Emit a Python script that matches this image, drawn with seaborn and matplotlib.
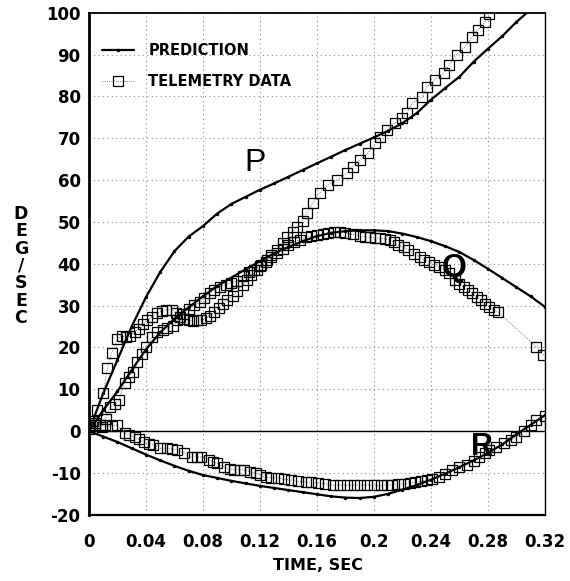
import numpy as np
import pandas as pd
import matplotlib
matplotlib.use("Agg")
import matplotlib.pyplot as plt
from matplotlib.lines import Line2D
import seaborn as sns

# predicted rates, one point every 0.01 s
t_pred = [0.00, 0.01, 0.02, 0.03, 0.04, 0.05, 0.06, 0.07, 0.08, 0.09, 0.10,
          0.11, 0.12, 0.13, 0.14, 0.15, 0.16, 0.17, 0.18, 0.19, 0.20, 0.21,
          0.22, 0.23, 0.24, 0.25, 0.26, 0.27, 0.28, 0.29, 0.30, 0.31, 0.32]
p_pred = [0, 9, 17, 25, 32, 38, 43, 46.5, 49, 52, 54.3,
          56, 57.7, 59.2, 60.8, 62.4, 64, 65.6, 67.2, 68.7, 70.2, 71.8,
          73.6, 76, 79.2, 82, 84.7, 88.3, 91.4, 94.4, 97.8, 100.8]
q_pred = [0, 5, 9.5, 14.6, 19.5, 23.6, 26.8, 29.6, 32.2, 34.7, 36.7,
          38.7, 40.6, 42.5, 44, 45.4, 46.6, 47.4, 47.8, 48, 48, 47.8,
          47.2, 46.4, 45.4, 44.2, 42.8, 40.9, 38.8, 36.6, 34.4, 32.2, 29.7]
r_pred = [0, -1.3, -2.6, -4.1, -5.6, -7, -8.3, -9.5, -10.5, -11.2, -11.9,
          -12.5, -13.1, -13.6, -14.1, -14.6, -15.1, -15.6, -15.9, -16, -15.7, -15,
          -14, -12.9, -11.6, -10.2, -8.6, -7, -5.2, -3.2, -0.8, 1.5, 3.8]

# telemetry samples (time, deg/sec)
p_tel = [(0.000, 1.0), (0.003, 2.5), (0.006, 5.0), (0.010, 9.0), (0.013, 15.0),
         (0.016, 18.7), (0.020, 22.0), (0.023, 22.7), (0.026, 22.5), (0.029, 22.7),
         (0.032, 23.8), (0.035, 24.5), (0.038, 25.6), (0.041, 26.5), (0.044, 27.2),
         (0.048, 28.2), (0.051, 28.7), (0.054, 29.0), (0.058, 29.0), (0.061, 28.3),
         (0.064, 27.3), (0.067, 26.7), (0.070, 26.5), (0.073, 26.4), (0.076, 26.5),
         (0.079, 26.6), (0.082, 27.0), (0.085, 27.6), (0.088, 28.5), (0.091, 29.5),
         (0.094, 30.5), (0.097, 31.3), (0.101, 32.3), (0.104, 33.5), (0.108, 35.0),
         (0.111, 36.2), (0.114, 37.3), (0.118, 38.5), (0.121, 39.7), (0.125, 41.0),
         (0.128, 42.2), (0.132, 43.3), (0.136, 45.0), (0.139, 46.3), (0.143, 47.6),
         (0.146, 48.8), (0.150, 50.3), (0.153, 52.2), (0.157, 54.5), (0.162, 57.0),
         (0.168, 58.9), (0.174, 60.0), (0.181, 61.7), (0.185, 63.2), (0.190, 64.8),
         (0.196, 66.5), (0.201, 68.9), (0.204, 70.3), (0.209, 72.0), (0.215, 73.7),
         (0.220, 74.9), (0.223, 76.0), (0.227, 78.5), (0.234, 79.9), (0.237, 82.3),
         (0.243, 84.0), (0.249, 85.6), (0.253, 87.6), (0.258, 90.0), (0.264, 91.9),
         (0.269, 94.3), (0.273, 95.9), (0.278, 97.8), (0.281, 99.8)]
q_tel = [(0.000, 0.5), (0.004, 1.5), (0.009, 1.0), (0.012, 3.0), (0.015, 5.7),
         (0.018, 6.5), (0.021, 7.5), (0.025, 11.5), (0.028, 13.0), (0.031, 14.1),
         (0.034, 16.5), (0.037, 18.5), (0.040, 20.0), (0.044, 22.5), (0.048, 23.7),
         (0.052, 24.2), (0.055, 24.6), (0.059, 25.1), (0.062, 26.5), (0.066, 28.0),
         (0.070, 29.3), (0.074, 30.1), (0.078, 30.8), (0.081, 31.8), (0.085, 33.0),
         (0.088, 33.8), (0.092, 34.5), (0.096, 35.0), (0.100, 35.5), (0.104, 36.0),
         (0.108, 37.0), (0.112, 38.0), (0.116, 38.5), (0.120, 39.5), (0.124, 40.5),
         (0.128, 41.5), (0.132, 42.5), (0.136, 43.5), (0.140, 44.5), (0.144, 45.3),
         (0.148, 45.8), (0.152, 46.3), (0.156, 46.7), (0.160, 46.9), (0.164, 47.0),
         (0.168, 47.4), (0.172, 47.6), (0.176, 47.6), (0.180, 47.4), (0.185, 47.0),
         (0.190, 46.7), (0.194, 46.5), (0.197, 46.4), (0.201, 46.2), (0.204, 46.1),
         (0.208, 45.9), (0.211, 45.7), (0.214, 45.1), (0.217, 44.5), (0.221, 43.9),
         (0.224, 43.3), (0.228, 42.4), (0.232, 41.6), (0.235, 41.0), (0.239, 40.4),
         (0.242, 39.8), (0.246, 39.2), (0.250, 38.4), (0.253, 37.8), (0.257, 36.1),
         (0.260, 35.2), (0.263, 34.4), (0.266, 33.7), (0.269, 33.0), (0.272, 32.0),
         (0.275, 31.3), (0.278, 30.3), (0.281, 29.7), (0.284, 29.0), (0.287, 28.5),
         (0.314, 20.1), (0.319, 18.2)]
r_tel = [(0.000, 1.0), (0.004, 1.9), (0.008, 1.5), (0.011, 1.4), (0.016, 1.2),
         (0.020, 1.4), (0.025, -0.5), (0.028, -1.0), (0.032, -1.4), (0.035, -2.0),
         (0.039, -2.6), (0.042, -3.0), (0.045, -3.3), (0.050, -4.1), (0.055, -4.1),
         (0.058, -4.3), (0.062, -4.5), (0.067, -5.3), (0.072, -6.2), (0.076, -6.2),
         (0.079, -6.2), (0.084, -6.9), (0.087, -7.3), (0.090, -7.7), (0.095, -8.6),
         (0.099, -9.0), (0.102, -9.3), (0.106, -9.3), (0.109, -9.3), (0.113, -9.7),
         (0.117, -10.0), (0.120, -10.5), (0.124, -11.0), (0.128, -11.1), (0.133, -11.2),
         (0.137, -11.5), (0.142, -11.7), (0.147, -12.0), (0.152, -12.2), (0.156, -12.2),
         (0.161, -12.3), (0.166, -12.6), (0.171, -12.9), (0.176, -12.9), (0.181, -12.9),
         (0.186, -12.9), (0.190, -12.9), (0.195, -12.9), (0.200, -13.0), (0.205, -13.0),
         (0.209, -12.9), (0.213, -12.9), (0.217, -12.7), (0.221, -12.6), (0.225, -12.4),
         (0.229, -12.2), (0.233, -12.0), (0.237, -11.7), (0.241, -11.4), (0.246, -11.0),
         (0.250, -10.2), (0.255, -9.3), (0.260, -8.7), (0.265, -8.1), (0.270, -7.2),
         (0.274, -6.2), (0.278, -5.3), (0.281, -4.5), (0.286, -3.7), (0.291, -2.9),
         (0.296, -2.2), (0.300, -1.4), (0.305, 0.0), (0.310, 1.4), (0.314, 2.6),
         (0.320, 3.6)]

x_ticks = [0, 0.04, 0.08, 0.12, 0.16, 0.2, 0.24, 0.28, 0.32]
x_labels = ["0", "0.04", "0.08", "0.12", "0.16", "0.2", "0.24", "0.28", "0.32"]
y_ticks = [-20, -10, 0, 10, 20, 30, 40, 50, 60, 70, 80, 90, 100]
y_labels = ["-20", "-10", "0", "10", "20", "30", "40", "50", "60", "70", "80", "90", "100"]

sns.set_style("white")
plt.rcParams["font.family"] = ["DejaVu Sans"]
plt.rcParams["font.weight"] = "bold"
for key in ["text.color", "axes.labelcolor", "xtick.color", "ytick.color"]:
    plt.rcParams[key] = "black"

fig = plt.figure(figsize=(5.7, 5.81), dpi=100)
ax = fig.add_axes([0.156, 0.114, 0.8, 0.864])

ax.grid(True, linestyle=(0, (1, 3)), color="0.55", linewidth=0.8)
ax.axhline(0, color="black", linewidth=1.0, zorder=1)

# prediction curves
for vals in [p_pred, q_pred, r_pred]:
    n = len(vals)
    sns.lineplot(x=t_pred[:n], y=vals, ax=ax, color="black", linewidth=1.6,
                 marker="o", markersize=2.5, markeredgewidth=0,
                 estimator=None, sort=False, zorder=3)

# telemetry squares
for pts in [p_tel, q_tel, r_tel]:
    df = pd.DataFrame(pts, columns=["t", "v"])
    sns.lineplot(data=df, x="t", y="v", ax=ax, color="0.35", linewidth=0.6,
                 linestyle=":", marker="s", markersize=7, markerfacecolor="none",
                 markeredgecolor="black", markeredgewidth=0.9,
                 estimator=None, sort=False, zorder=4)

ax.set_xlim(0, 0.32)
ax.set_ylim(-20, 100)
ax.set_xticks(x_ticks)
ax.set_xticklabels(x_labels)
ax.set_yticks(y_ticks)
ax.set_yticklabels(y_labels)
ax.tick_params(axis="x", direction="in", length=6, width=1.2, pad=13, labelsize=12)
ax.tick_params(axis="y", direction="in", length=6, width=1.2, pad=6, labelsize=12)
ax.set_xlabel("")
ax.set_ylabel("")

for side, lw in [("left", 2.0), ("bottom", 1.6), ("top", 1.3), ("right", 1.0)]:
    ax.spines[side].set_visible(True)
    ax.spines[side].set_color("black")
    ax.spines[side].set_linewidth(lw)

# curve letters
ax.text(0.1165, 64, "P", fontsize=23, fontweight="normal", family="Liberation Sans",
        color="black", ha="center", va="center")
ax.text(0.256, 39, "Q", fontsize=23, fontweight="bold", family="Liberation Sans",
        color="black", ha="center", va="center", zorder=6)
ax.text(0.276, -3.8, "R", fontsize=22, fontweight="bold", family="Liberation Sans",
        color="black", ha="center", va="center", zorder=6)

handles = [
    Line2D([], [], color="black", linewidth=1.6, marker="o", markersize=2.5,
           markeredgewidth=0),
    Line2D([], [], color="0.35", linewidth=0.6, linestyle=":", marker="s",
           markersize=7, markerfacecolor="none", markeredgecolor="black",
           markeredgewidth=0.9),
]
ax.legend(handles, ["PREDICTION", "TELEMETRY DATA"], loc="upper left",
          bbox_to_anchor=(0.028, 0.94), frameon=False, fontsize=10.5,
          handlelength=2.2, handletextpad=1.0, labelspacing=1.1,
          borderpad=0, borderaxespad=0, labelcolor="black")

fig.text(318 / 570, 1 - 565 / 581, "TIME, SEC", fontsize=11.5, fontweight="bold",
         ha="center", va="center")
fig.text(21 / 570, 1 - 266 / 581, "D\nE\nG\n/\nS\nE\nC", fontsize=12.5,
         fontweight="bold", ha="center", va="center", linespacing=0.95)

fig.savefig("out.png", dpi=100)
